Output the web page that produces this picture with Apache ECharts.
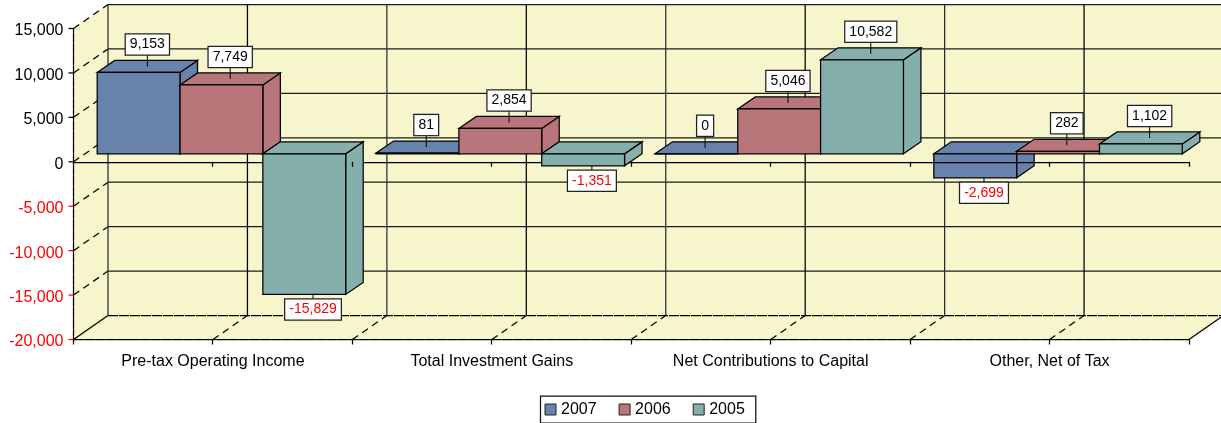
<!DOCTYPE html>
<html>
<head>
<meta charset="utf-8">
<style>html,body{margin:0;padding:0;background:#fff}#c{width:1221px;height:423px}</style>
<script src="https://cdn.jsdelivr.net/npm/echarts@6/dist/echarts.min.js"></script>
</head>
<body>
<div id="c"></div>
<script>
var categories = ['Pre-tax Operating Income', 'Total Investment Gains', 'Net Contributions to Capital', 'Other, Net of Tax'];
var values2007 = [9153, 81, 0, -2699];
var values2006 = [7749, 2854, 5046, 282];
var values2005 = [-15829, -1351, 10582, 1102];
var yTicks = [-20000, -15000, -10000, -5000, 0, 5000, 10000, 15000];
var FONT = '"Liberation Sans", Arial, sans-serif';

var WALL = '#F7F5CB', INK = '#000', GRID = '#1c1c1c';
var LW = 1.25;
var DEPTH_X = 34.5, DEPTH_Y = 24;       // wall depth of the pseudo-3D box
var BAR_DX = 17.5, BAR_DY = 12;         // bar depth
var SHIFT_X = 8.5, SHIFT_Y = 8;         // bars sit a little behind the front plane
var BAR_SHARE = 0.297;

function fmt(v) { return Number(v).toLocaleString('en-US'); }
function line(x1, y1, x2, y2, stroke, dash, w, z2) {
  return { type: 'line', z2: z2 || 0, shape: { x1: x1, y1: y1, x2: x2, y2: y2 },
    style: { stroke: stroke, lineWidth: w || LW, lineDash: dash || null }, silent: true };
}
function poly(points, fill, stroke, z2) {
  return { type: 'polygon', z2: z2 || 0, shape: { points: points },
    style: { fill: fill, stroke: stroke || null, lineWidth: stroke ? LW : 0, lineJoin: 'miter' }, silent: true };
}

function renderBackdrop(params, api) {
  var r = params.coordSys;
  var L = r.x, R = r.x + r.width;
  var top = api.coord([0, yTicks[yTicks.length - 1]])[1];
  var bottom = api.coord([0, yTicks[0]])[1];
  var c = [];
  var bl = L + DEPTH_X, br = R + DEPTH_X;
  c.push(poly([[L, top], [bl, top - DEPTH_Y], [bl, bottom - DEPTH_Y], [L, bottom]], WALL));
  c.push(poly([[bl, top - DEPTH_Y], [br, top - DEPTH_Y], [br, bottom - DEPTH_Y], [bl, bottom - DEPTH_Y]], WALL));
  c.push(poly([[L, bottom], [bl, bottom - DEPTH_Y], [br, bottom - DEPTH_Y], [R, bottom]], WALL));
  yTicks.forEach(function (t) {
    var y = api.coord([0, t])[1];
    var first = t === yTicks[0];
    c.push(line(L, y, bl, y - DEPTH_Y, INK, first ? null : [7, 5]));
    c.push(line(bl, y - DEPTH_Y, br, y - DEPTH_Y, first ? '#000' : GRID, first ? [10, 1] : null));
  });
  var half = api.size([1, 0])[0] / 2;
  for (var i = 0; i <= categories.length * 2; i++) {
    var x = L + i * half;
    c.push(line(x + DEPTH_X, top - DEPTH_Y, x + DEPTH_X, bottom - DEPTH_Y, i % 2 ? INK : '#2c2c2c'));
    if (i > 0 && i < categories.length * 2) c.push(line(x, bottom, x + DEPTH_X, bottom - DEPTH_Y, INK, [7, 5]));
  }
  c.push(line(R, bottom, br, bottom - DEPTH_Y, INK));
  return { type: 'group', children: c };
}

function renderFrontMarks(params, api) {
  var r = params.coordSys;
  var half = api.size([1, 0])[0] / 2;
  var y0 = api.coord([0, 0])[1], yb = api.coord([0, yTicks[0]])[1];
  var c = [];
  for (var i = 0; i <= categories.length * 2; i++) {
    var x = Math.round(r.x + i * half - 0.5) + 0.5;
    if (i > 0) c.push(line(x, y0, x, y0 + 5, INK));
    c.push(line(x, yb, x, yb + 5, INK));
  }
  yTicks.forEach(function (t) {
    var y = api.coord([0, t])[1];
    c.push(line(r.x - 5, y, r.x, y, t < 0 ? '#f00' : INK));
  });
  return { type: 'group', children: c };
}

function barRenderer(seriesPos, color) {
  return function (params, api) {
    var cat = api.value(0), val = api.value(1);
    var base = api.coord([cat, 0]);
    var band = api.size([1, 0])[0];
    var w = band * BAR_SHARE;
    var left = base[0] + SHIFT_X + (seriesPos - 1.5) * w;
    var y0 = base[1] - SHIFT_Y;
    var yv = api.coord([cat, val])[1] - SHIFT_Y;
    var t = Math.min(y0, yv), b = Math.max(y0, yv), right = left + w;
    var c = [
      poly([[right, t], [right + BAR_DX, t - BAR_DY], [right + BAR_DX, b - BAR_DY], [right, b]], color, INK),
      poly([[left, t], [left + BAR_DX, t - BAR_DY], [right + BAR_DX, t - BAR_DY], [right, t]], color, INK),
      poly([[left, t], [right, t], [right, b], [left, b]], color, INK)
    ];
    var cx = left + w / 2 + BAR_DX / 2;
    var neg = val < 0;
    var tip = neg ? b : t - BAR_DY / 2;
    var edge = neg ? b + 5 : tip - 12;
    c.push(line(cx, tip, cx, edge, INK, null, 1, 50));
    c.push({
      type: 'text', z2: 60, silent: true,
      style: {
        text: fmt(val), x: cx, y: edge,
        align: 'center', verticalAlign: neg ? 'top' : 'bottom',
        font: '14px ' + FONT, fill: neg ? '#f00' : '#000',
        backgroundColor: '#fff', borderColor: '#222', borderWidth: 1.25, padding: [3, 4, 3, 4]
      }
    });
    return { type: 'group', children: c };
  };
}

function pairs(values) { return values.map(function (v, i) { return [i, v]; }); }

var chart = echarts.init(document.getElementById('c'), null, { renderer: 'canvas' });
chart.setOption({
  animation: false,
  backgroundColor: '#fff',
  textStyle: { fontFamily: FONT },
  grid: { left: 73.5, right: 32, top: 28.5, height: 311, containLabel: false },
  legend: {
    data: ['2007', '2006', '2005'],
    left: 540.5, top: 396, orient: 'horizontal',
    padding: [5.5, 11, 5.5, 4], itemGap: 22, itemWidth: 11, itemHeight: 11, icon: 'rect',
    borderColor: '#111', borderWidth: 1.25, backgroundColor: '#fff',
    selectedMode: false,
    itemStyle: { borderColor: '#222', borderWidth: 1 },
    textStyle: { fontSize: 16, color: '#000', fontFamily: FONT }
  },
  xAxis: [
    { type: 'category', data: categories, position: 'bottom',
      axisLine: { onZero: false, lineStyle: { color: INK, type: [10, 1], width: LW } },
      axisTick: { show: false },
      axisLabel: { color: '#000', fontSize: 16, fontFamily: FONT, margin: 14, interval: 0 },
      splitLine: { show: false } },
    { type: 'category', data: categories, position: 'top', z: 2,
      axisLine: { onZero: true, lineStyle: { color: INK, width: LW } },
      axisTick: { show: false }, axisLabel: { show: false }, splitLine: { show: false } }
  ],
  yAxis: {
    type: 'value', min: yTicks[0], max: yTicks[yTicks.length - 1], interval: 5000,
    axisLine: { show: true, lineStyle: { color: INK, type: [10, 1], width: LW } },
    axisTick: { show: false },
    splitLine: { show: false },
    axisLabel: { fontSize: 16, fontFamily: FONT, margin: 10, formatter: fmt, verticalAlign: 'top', lineHeight: 5,
      color: function (v) { return Number(v) < 0 ? '#f00' : '#000'; } }
  },
  series: [
    { type: 'custom', name: 'wall', z: -1, silent: true, data: [[0, 0]], renderItem: renderBackdrop, clip: false, tooltip: { show: false } },
    { type: 'custom', name: '2007', z: 1, data: pairs(values2007), renderItem: barRenderer(0, '#6682AD'), itemStyle: { color: '#6682AD' }, encode: { x: 0, y: 1 } },
    { type: 'custom', name: '2006', z: 3, data: pairs(values2006), renderItem: barRenderer(1, '#B8767B'), itemStyle: { color: '#B8767B' }, encode: { x: 0, y: 1 } },
    { type: 'custom', name: '2005', z: 3, data: pairs(values2005), renderItem: barRenderer(2, '#85AFAD'), itemStyle: { color: '#85AFAD' }, encode: { x: 0, y: 1 } },
    { type: 'custom', name: 'marks', z: 5, silent: true, data: [[0, 0]], renderItem: renderFrontMarks }
  ]
});
</script>
</body>
</html>
